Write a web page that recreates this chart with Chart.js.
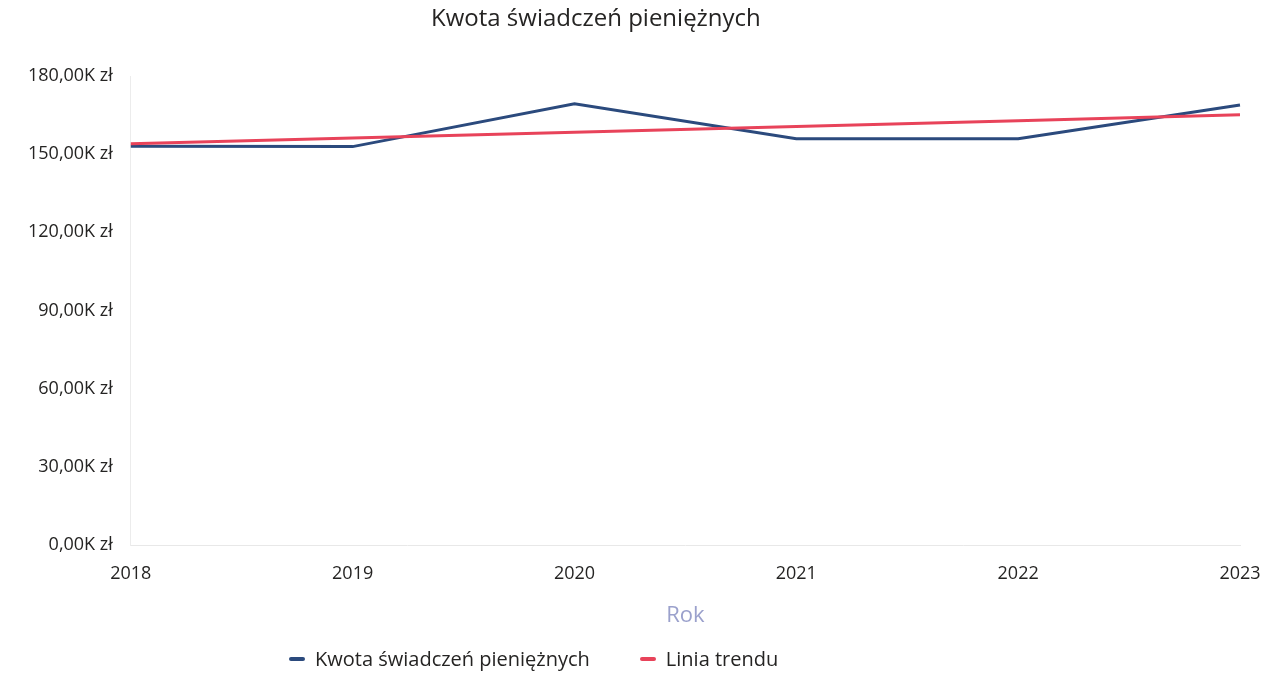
<!DOCTYPE html>
<html lang="pl">
<head>
<meta charset="utf-8">
<title>Kwota świadczeń pieniężnych</title>
<script src="https://cdn.jsdelivr.net/npm/chart.js@4/dist/chart.umd.min.js"></script>
<style>
    html, body { margin:0; padding:0; background:#fff; }
    body { width:1273px; height:676px; position:relative; overflow:hidden; font-family:'Open Sans', 'Noto Sans', sans-serif; }
    #wykres-box { position:absolute; left:0; top:0; width:1273px; height:676px; }
    #tytul { position:absolute; top:0px; left:431px; font-size:24px; color:#252423; white-space:nowrap; }
    #legenda { position:absolute; top:645px; left:289px; display:flex; align-items:center; font-size:20px; color:#252423; white-space:nowrap; }
    #legenda .item { display:flex; align-items:center; margin-right:50px; }
    #legenda .kreska { width:16px; height:4px; border-radius:2px; margin-right:10px; }
</style>
</head>
<body>
<div id="wykres-box"><canvas id="wykres"></canvas></div>
<div id="tytul">Kwota świadczeń pieniężnych</div>
<div id="legenda"></div>

<script>
// ── DANE ──────────────────────────────────────────────
const lata        = ['2018', '2019', '2020', '2021', '2022', '2023'];
const kwoty       = [153000, 152900, 169300, 155900, 155900, 168900];
const trend       = [154000, 156200, 158400, 160600, 162800, 165100];
const osY         = { min: 0, max: 180000, krok: 30000 };

const KOLOR_KWOTA = '#2b4a7d';
const KOLOR_TREND = '#e8435a';

const formatZl = v => (v / 1000).toFixed(2).replace('.', ',') + 'K zł';

const wykres = new Chart(document.getElementById('wykres'), {
    type: 'line',
    data: {
        labels: lata,
        datasets: [
            {
                label: 'Kwota świadczeń pieniężnych',
                data: kwoty,
                borderColor: KOLOR_KWOTA,
                backgroundColor: KOLOR_KWOTA,
                borderWidth: 3,
                pointRadius: 0,
                tension: 0,
                order: 1
            },
            {
                label: 'Linia trendu',
                data: trend,
                borderColor: KOLOR_TREND,
                backgroundColor: KOLOR_TREND,
                borderWidth: 3,
                pointRadius: 0,
                tension: 0,
                order: 0
            }
        ]
    },
    options: {
        responsive: true,
        maintainAspectRatio: false,
        animation: false,
        layout: { padding: { top: 76, right: 33, bottom: 47, left: 10 } },
        plugins: {
            legend: { display: false },
            title: { display: false },
            tooltip: { enabled: false }
        },
        scales: {
            x: {
                offset: false,
                // skrajne etykiety lat mogą wystawać poza obszar wykresu
                afterFit: s => { s.paddingLeft = 0; s.paddingRight = 0; },
                grid: { display: false, drawTicks: false },
                border: { display: true, color: '#e8e8e8', width: 1 },
                ticks: { color: '#252423', padding: 18, font: { family: "'Open Sans'", size: 18 }, maxRotation: 0 },
                title: {
                    display: true,
                    text: 'Rok',
                    color: '#9ba1cc',
                    padding: { top: 0, bottom: 0 },
                    font: { family: "'Open Sans'", size: 22 }
                }
            },
            y: {
                min: osY.min,
                max: osY.max,
                grid: { display: false, drawTicks: false },
                border: { display: true, color: '#ececec', width: 1 },
                ticks: {
                    stepSize: osY.krok,
                    color: '#252423',
                    padding: 18,
                    font: { family: "'Open Sans'", size: 18 },
                    callback: v => formatZl(v)
                }
            }
        }
    }
});

// ── LEGENDA ───────────────────────────────────────────
document.getElementById('legenda').innerHTML = wykres.data.datasets.map(ds => `
    <span class="item">
        <span class="kreska" style="background:${ds.borderColor};"></span>
        <span>${ds.label}</span>
    </span>`).join('');
</script>
</body>
</html>
